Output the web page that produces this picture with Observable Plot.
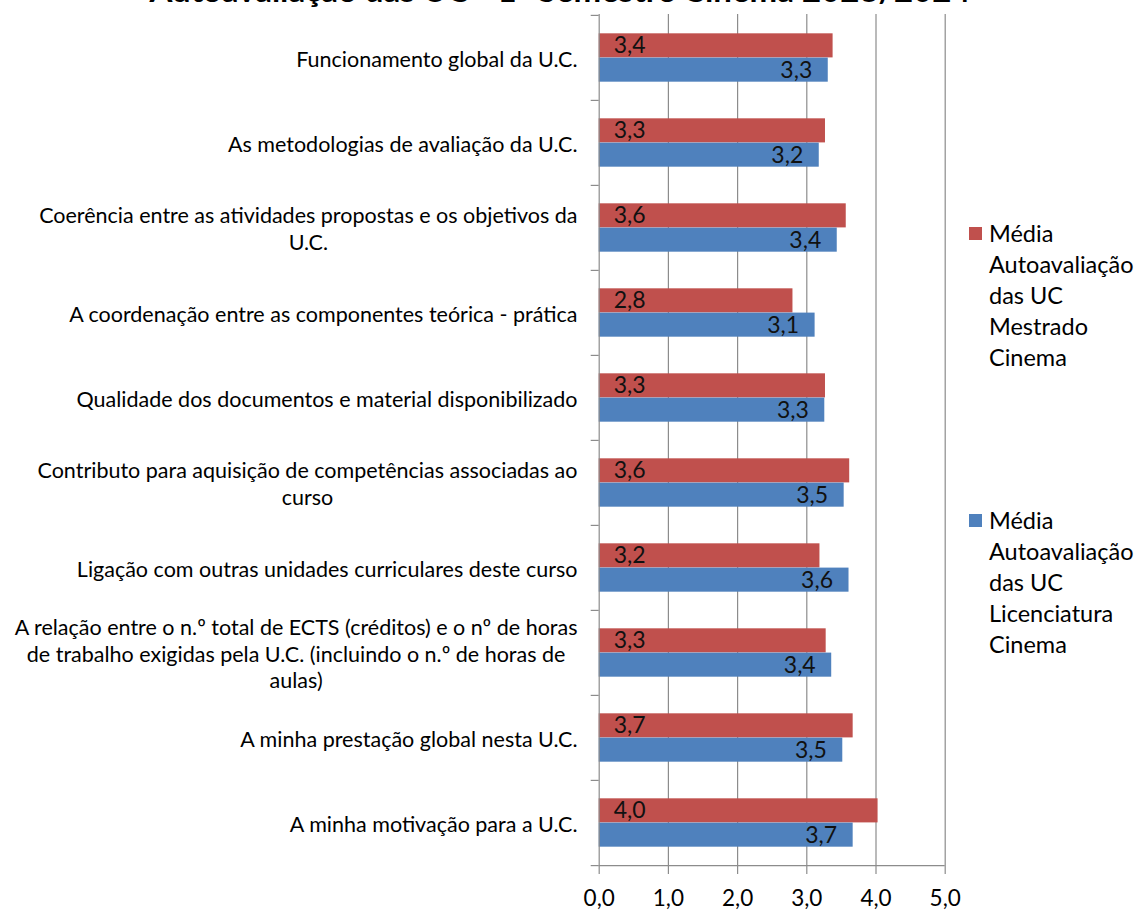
<!DOCTYPE html>
<html>
<head>
<meta charset="utf-8">
<script src="https://cdn.jsdelivr.net/npm/d3@7"></script>
<script src="https://cdn.jsdelivr.net/npm/@observablehq/plot@0.6"></script>
<style>
  html, body { margin: 0; padding: 0; background: #fff; overflow: hidden; }
  #wrap { position: relative; width: 1141px; height: 911px; font-family: Lato, "Open Sans", sans-serif; }
  #title { position: absolute; left: 0; width: 1120px; text-align: center; top: -29.5px; font-size: 33px; line-height: 36px; font-weight: bold; color: #000; white-space: nowrap; }
  .leg { position: absolute; left: 969px; font-size: 23.5px; line-height: 31px; color: #000; }
  .leg .sw { position: absolute; left: 0; top: 9px; width: 13px; height: 13px; }
  .leg .tx { position: absolute; left: 20px; top: 0; white-space: pre; }
</style>
</head>
<body>
<div id="wrap">
  <div id="title"></div>
  <div id="chart"></div>
</div>
<script>
const title = "Autoavaliação das UC - 1º Semestre Cinema 2023/2024";
const categories = [
  "Funcionamento global da U.C.",
  "As metodologias de avaliação da U.C.",
  "Coerência entre as atividades propostas e os objetivos da\nU.C.",
  "A coordenação entre as componentes teórica - prática",
  "Qualidade dos documentos e material disponibilizado",
  "Contributo para aquisição de competências associadas ao\ncurso",
  "Ligação com outras unidades curriculares deste curso",
  "A relação entre o n.º total de ECTS (créditos) e o nº de horas\nde trabalho exigidas pela U.C. (incluindo o n.º de horas de\naulas)",
  "A minha prestação global nesta U.C.",
  "A minha motivação para a U.C."
];
const seriesNames = [
  "Média\nAutoavaliação\ndas UC\nMestrado\nCinema",
  "Média\nAutoavaliação\ndas UC\nLicenciatura\nCinema"
];
const seriesColors = ["#C0504D", "#4F81BD"];
const mestrado =     [3.38, 3.27, 3.57, 2.80, 3.27, 3.62, 3.19, 3.28, 3.67, 4.03];
const licenciatura = [3.31, 3.18, 3.44, 3.12, 3.26, 3.54, 3.61, 3.36, 3.52, 3.67];
const xTicks = [0, 1, 2, 3, 4, 5];

const fmt = v => v.toFixed(1).replace(".", ",");

const rowsM = categories.map((c, i) => ({cat: c, value: mestrado[i]}));
const rowsL = categories.map((c, i) => ({cat: c, value: licenciatura[i]}));

const W = 1141, H = 911;
const mt = 14, mb = 45, ml = 598.7, mr = W - 944.7;
const bw = (H - mt - mb) / categories.length;
const barH = 0.285 * bw;
const gap = (bw - 2 * barH) / 2;
const axisColor = "#8c8c8c";

document.getElementById("title").textContent = title;

const chart = Plot.plot({
  width: W,
  height: H,
  marginTop: mt,
  marginBottom: mb,
  marginLeft: ml,
  marginRight: mr,
  style: {fontFamily: "Lato, 'Open Sans', sans-serif", fontSize: "20px", color: "#000", background: "transparent", overflow: "visible"},
  x: {domain: [0, 5]},
  y: {domain: categories, padding: 0},
  marks: [
    Plot.gridX(xTicks.slice(1), {stroke: axisColor, strokeOpacity: 1, strokeWidth: 1.2}),
    Plot.barX(rowsM, {x: "value", y: "cat", fill: seriesColors[0], insetTop: gap, insetBottom: gap + barH}),
    Plot.barX(rowsL, {x: "value", y: "cat", fill: seriesColors[1], insetTop: gap + barH, insetBottom: gap}),
    Plot.text(rowsM, {x: 0, y: "cat", text: d => fmt(d.value), textAnchor: "start", dx: 14.5, dy: -barH / 2, fontSize: 23, fill: "#111"}),
    Plot.text(rowsL, {x: "value", y: "cat", text: d => fmt(d.value), textAnchor: "end", dx: -16, dy: barH / 2, fontSize: 23, fill: "#111"}),
    Plot.ruleX([0], {stroke: axisColor, strokeWidth: 1.2}),
    Plot.ruleY([categories[categories.length - 1]], {y: d => d, dy: bw / 2, stroke: axisColor, strokeWidth: 1.2}),
    Plot.ruleY(categories, {y: d => d, x1: 0, x2: 0, insetLeft: -8, dy: -bw / 2, stroke: axisColor, strokeWidth: 1.2}),
    Plot.ruleY([categories[categories.length - 1]], {y: d => d, x1: 0, x2: 0, insetLeft: -8, dy: bw / 2, stroke: axisColor, strokeWidth: 1.2}),
    Plot.axisX({ticks: xTicks, tickFormat: fmt, tickSize: 8, tickPadding: 16, fontSize: 22.5, stroke: axisColor, strokeWidth: 1.2, label: null}),
    Plot.axisY({tickSize: 0, tickPadding: 21.7, fontSize: 21.5, lineHeight: 1.25, label: null})
  ]
});
document.getElementById("chart").appendChild(chart);

// center multi-line category labels (Excel style)
chart.querySelectorAll("text").forEach(t => {
  const spans = t.querySelectorAll("tspan");
  if (spans.length > 1) {
    let w = 0;
    spans.forEach(s => { w = Math.max(w, s.getComputedTextLength()); });
    t.setAttribute("text-anchor", "middle");
    spans.forEach(s => s.setAttribute("x", -w / 2));
  }
});

// legend
const wrap = document.getElementById("wrap");
const legTops = [217.5, 504.5];
seriesNames.forEach((name, i) => {
  const d = document.createElement("div");
  d.className = "leg";
  d.style.top = legTops[i] + "px";
  const sw = document.createElement("div");
  sw.className = "sw";
  sw.style.background = seriesColors[i];
  const tx = document.createElement("div");
  tx.className = "tx";
  tx.textContent = name;
  d.appendChild(sw); d.appendChild(tx);
  wrap.appendChild(d);
});
</script>
</body>
</html>
